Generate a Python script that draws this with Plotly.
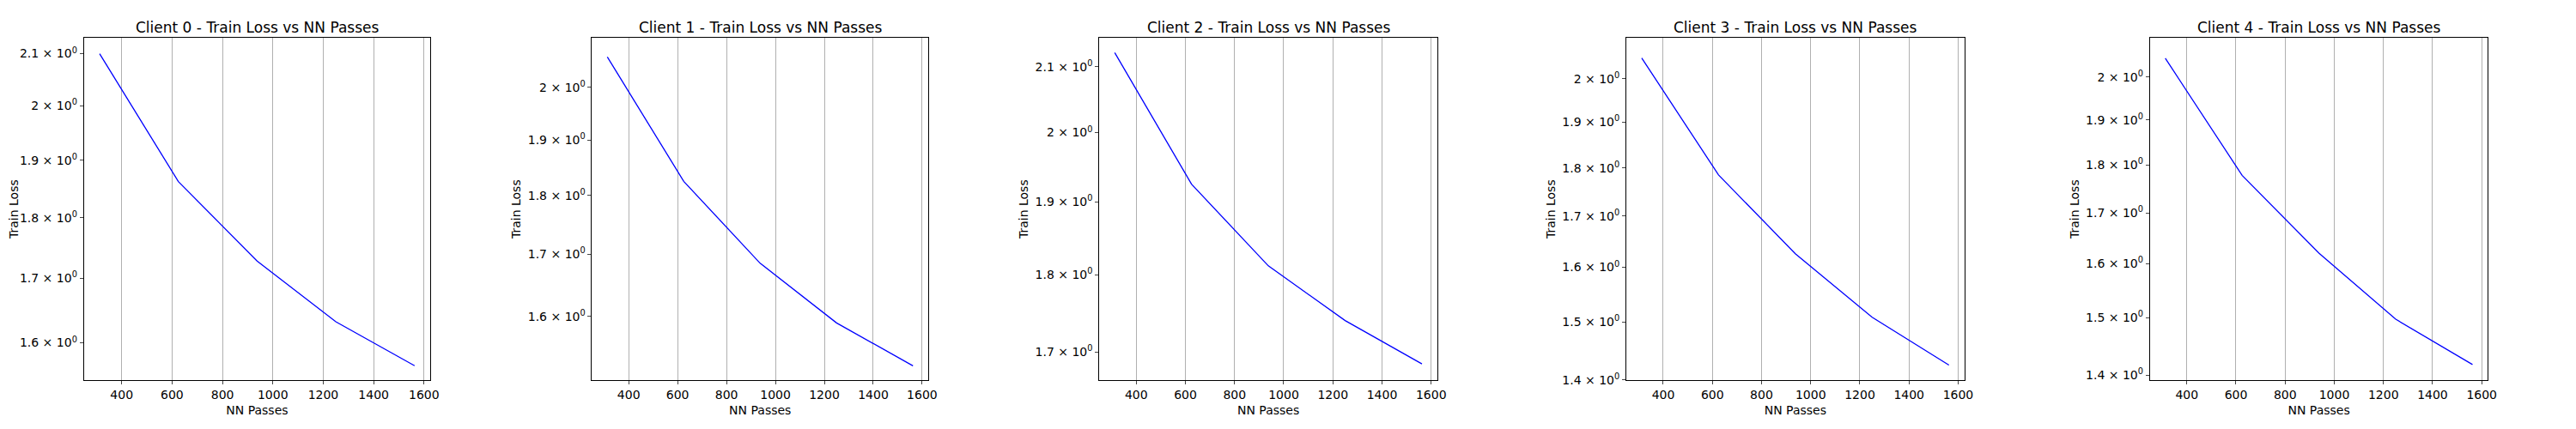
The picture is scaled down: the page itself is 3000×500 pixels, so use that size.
import math
import plotly.graph_objects as go

nn_passes = [312.5, 625, 937.5, 1250, 1562.5]
loss_c0 = [2.100, 1.862, 1.728, 1.632, 1.566]
loss_c1 = [2.060, 1.825, 1.685, 1.590, 1.525]
loss_c2 = [2.122, 1.925, 1.812, 1.740, 1.685]
loss_c3 = [2.050, 1.785, 1.626, 1.508, 1.425]
loss_c4 = [2.045, 1.778, 1.620, 1.497, 1.418]
losses = [loss_c0, loss_c1, loss_c2, loss_c3, loss_c4]
titles = [f"Client {i} - Train Loss vs NN Passes" for i in range(5)]
ytick_vals = [1.4, 1.5, 1.6, 1.7, 1.8, 1.9, 2.0, 2.1]
ytick_text = ["1.4 × 10<sup>0</sup>", "1.5 × 10<sup>0</sup>", "1.6 × 10<sup>0</sup>", "1.7 × 10<sup>0</sup>",
              "1.8 × 10<sup>0</sup>", "1.9 × 10<sup>0</sup>", "2 × 10<sup>0</sup>", "2.1 × 10<sup>0</sup>"]
y_ranges = [(1.545, 2.131), (1.504, 2.098), (1.665, 2.145), (1.40, 2.099), (1.392, 2.095)]
x_px = [(90, 495), (684, 1077), (1277, 1672), (1893, 2288), (2505, 2900)]
W, H = 3000, 500

fig = go.Figure()
font = "DejaVu Sans"
for i in range(5):
    sfx = "" if i == 0 else str(i + 1)
    fig.add_trace(go.Scatter(x=nn_passes, y=losses[i], mode="lines",
                             line=dict(color="blue", width=1.3),
                             xaxis="x" + sfx, yaxis="y" + sfx, showlegend=False))
    dom = [x_px[i][0] / W, x_px[i][1] / W]
    fig.layout["xaxis" + sfx] = dict(domain=dom, anchor="y" + sfx, range=[250, 1625],
                                     tickvals=[400, 600, 800, 1000, 1200, 1400, 1600],
                                     showgrid=True, gridcolor="#b0b0b0", gridwidth=1,
                                     showline=True, linecolor="black", mirror=True,
                                     ticks="outside", ticklen=4, zeroline=False,
                                     title=dict(text="NN Passes", font=dict(size=14, family=font), standoff=6),
                                     tickfont=dict(size=14, family=font, color="black"))
    fig.layout["yaxis" + sfx] = dict(domain=[58 / H, 463 / H], anchor="x" + sfx, type="log",
                                     range=[math.log10(y_ranges[i][0]), math.log10(y_ranges[i][1])],
                                     tickvals=ytick_vals, ticktext=ytick_text, showgrid=False,
                                     showline=True, linecolor="black", mirror=True,
                                     ticks="outside", ticklen=4, zeroline=False,
                                     title=dict(text="Train Loss", font=dict(size=14, family=font), standoff=4),
                                     tickfont=dict(size=14, family=font, color="black"))
    fig.add_annotation(text=titles[i], x=(dom[0] + dom[1]) / 2, y=1 - 24 / H, xref="paper", yref="paper",
                       xanchor="center", yanchor="middle",
                       showarrow=False, font=dict(size=17, family=font, color="black"))

fig.update_layout(width=W, height=H, margin=dict(l=0, r=0, t=0, b=0),
                  plot_bgcolor="white", paper_bgcolor="white",
                  font=dict(family=font, color="black"))
fig.write_html("out.html")
